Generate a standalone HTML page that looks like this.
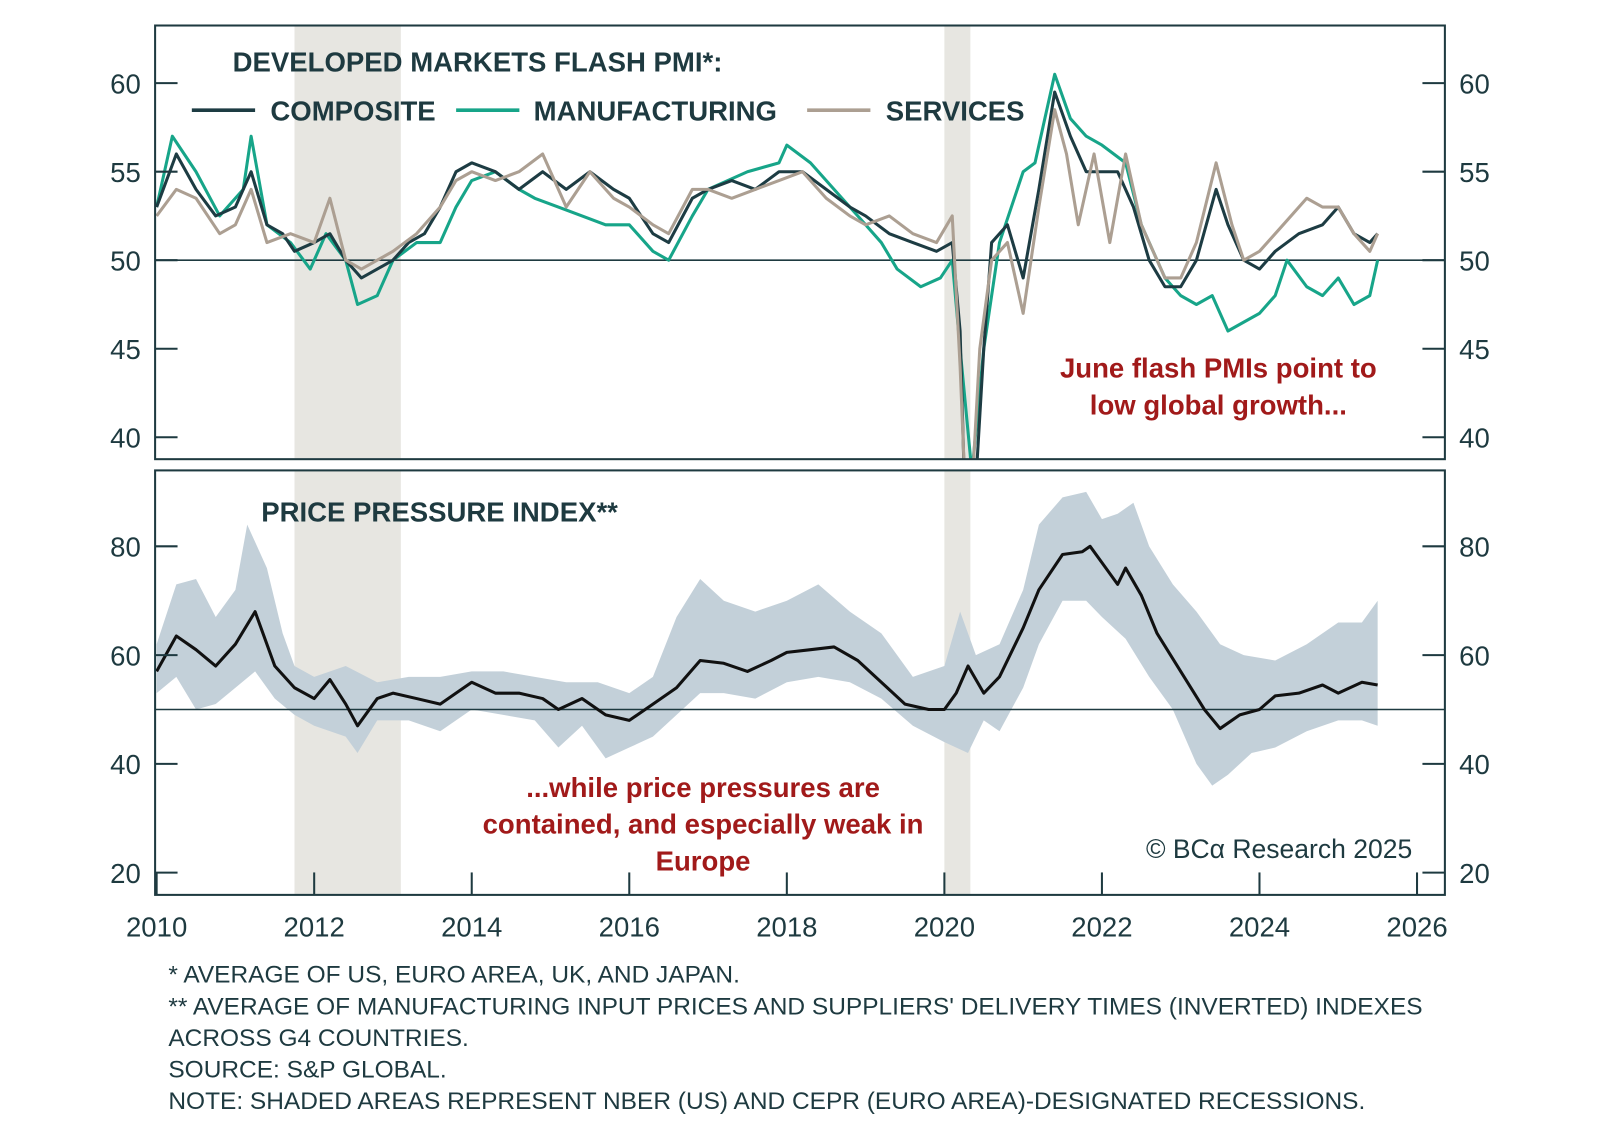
<!DOCTYPE html>
<html><head><meta charset="utf-8"><style>
body{margin:0;background:#fff;}
svg text{font-family:"Liberation Sans",sans-serif;}
</style></head><body>
<svg width="1600" height="1133" viewBox="0 0 1600 1133"><g id="c" transform="scale(1.0204)"></g></svg>
<script>
// ---- data ----
const compDates=[2010,2010.25,2010.5,2010.75,2011,2011.2,2011.4,2011.6,2011.75,2012,2012.2,2012.4,2012.6,2012.8,2013,2013.2,2013.4,2013.6,2013.8,2014,2014.3,2014.6,2014.9,2015.2,2015.5,2015.8,2016,2016.3,2016.5,2016.8,2017,2017.3,2017.6,2017.9,2018.2,2018.5,2018.8,2019,2019.3,2019.6,2019.9,2020.1,2020.2,2020.3,2020.5,2020.6,2020.8,2021,2021.2,2021.4,2021.6,2021.8,2022,2022.2,2022.4,2022.6,2022.8,2023,2023.2,2023.45,2023.6,2023.8,2024,2024.2,2024.5,2024.8,2025,2025.2,2025.4,2025.5];
const compVals=[53,56,54,52.5,53,55,52,51.5,50.5,51,51.5,50,49,49.5,50,51,51.5,53,55,55.5,55,54,55,54,55,54,53.5,51.5,51,53.5,54,54.5,54,55,55,54,53,52.5,51.5,51,50.5,51,46,30,45,51,52,49,54,59.5,57,55,55,55,53,50,48.5,48.5,50,54,52,50,49.5,50.5,51.5,52,53,51.5,51,51.5];
const mfgDates=[2010,2010.2,2010.5,2010.8,2011.1,2011.2,2011.4,2011.7,2011.95,2012.15,2012.4,2012.55,2012.8,2013,2013.3,2013.6,2013.8,2014,2014.3,2014.6,2014.8,2015.1,2015.4,2015.7,2016,2016.3,2016.5,2016.8,2017,2017.5,2017.9,2018,2018.3,2018.6,2018.9,2019.2,2019.4,2019.7,2019.95,2020.1,2020.2,2020.35,2020.5,2020.7,2021,2021.15,2021.4,2021.6,2021.8,2022,2022.3,2022.5,2022.8,2023,2023.2,2023.4,2023.6,2023.8,2024,2024.2,2024.35,2024.6,2024.8,2025,2025.2,2025.4,2025.5];
const mfgVals=[53,57,55,52.5,54,57,52,51,49.5,51.5,50,47.5,48,50,51,51,53,54.5,55,54,53.5,53,52.5,52,52,50.5,50,52.5,54,55,55.5,56.5,55.5,54,52.5,51,49.5,48.5,49,50,45,38,45,51,55,55.5,60.5,58,57,56.5,55.5,52,49,48,47.5,48,46,46.5,47,48,50,48.5,48,49,47.5,48,50];
const svcDates=[2010,2010.25,2010.5,2010.8,2011,2011.2,2011.4,2011.7,2012,2012.2,2012.4,2012.6,2012.8,2013,2013.3,2013.6,2013.8,2014,2014.3,2014.6,2014.9,2015.2,2015.5,2015.8,2016,2016.3,2016.5,2016.8,2017,2017.3,2017.6,2017.9,2018.2,2018.5,2018.8,2019,2019.3,2019.6,2019.9,2020.1,2020.2,2020.3,2020.45,2020.6,2020.8,2021,2021.2,2021.4,2021.55,2021.7,2021.9,2022.1,2022.3,2022.5,2022.8,2023,2023.2,2023.45,2023.65,2023.8,2024,2024.3,2024.6,2024.8,2025,2025.2,2025.4,2025.5];
const svcVals=[52.5,54,53.5,51.5,52,54,51,51.5,51,53.5,50,49.5,50,50.5,51.5,53,54.5,55,54.5,55,56,53,55,53.5,53,52,51.5,54,54,53.5,54,54.5,55,53.5,52.5,52,52.5,51.5,51,52.5,44,33,45,50,51,47,53,58.5,56,52,56,51,56,52,49,49,51,55.5,52,50,50.5,52,53.5,53,53,51.5,50.5,51.5];
const ppiDates=[2010,2010.25,2010.5,2010.75,2011,2011.25,2011.5,2011.75,2012,2012.2,2012.4,2012.55,2012.8,2013,2013.3,2013.6,2013.8,2014,2014.3,2014.6,2014.9,2015.1,2015.4,2015.7,2016,2016.3,2016.6,2016.9,2017.2,2017.5,2017.8,2018,2018.3,2018.6,2018.9,2019.2,2019.5,2019.8,2020,2020.15,2020.3,2020.5,2020.7,2021,2021.2,2021.5,2021.75,2021.85,2022,2022.2,2022.3,2022.5,2022.7,2023,2023.3,2023.5,2023.75,2024,2024.2,2024.5,2024.8,2025,2025.3,2025.5];
const ppiVals=[57,63.5,61,58,62,68,58,54,52,55.5,51,47,52,53,52,51,53,55,53,53,52,50,52,49,48,51,54,59,58.5,57,59,60.5,61,61.5,59,55,51,50,50,53,58,53,56,65,72,78.5,79,80,77,73,76,71,64,57,50,46.5,49,50,52.5,53,54.5,53,55,54.5];
const upDates=[2010,2010.25,2010.5,2010.75,2011,2011.15,2011.4,2011.6,2011.75,2012,2012.4,2012.8,2013.2,2013.6,2014,2014.4,2014.8,2015.2,2015.6,2016,2016.3,2016.6,2016.9,2017.2,2017.6,2018,2018.4,2018.8,2019.2,2019.6,2020,2020.2,2020.4,2020.7,2021,2021.2,2021.5,2021.8,2022,2022.2,2022.4,2022.6,2022.9,2023.2,2023.5,2023.8,2024.2,2024.6,2025,2025.3,2025.5];
const upVals=[62,73,74,67,72,84,76,64,58,56,58,55,56,56,57,57,56,55,55,53,56,67,74,70,68,70,73,68,64,56,58,68,60,62,72,84,89,90,85,86,88,80,73,68,62,60,59,62,66,66,70];
const loDates=[2010,2010.25,2010.5,2010.75,2011,2011.25,2011.5,2011.75,2012,2012.4,2012.55,2012.8,2013.2,2013.6,2014,2014.4,2014.8,2015.1,2015.4,2015.7,2016,2016.3,2016.6,2016.9,2017.2,2017.6,2018,2018.4,2018.8,2019.2,2019.6,2020,2020.3,2020.5,2020.7,2021,2021.2,2021.5,2021.8,2022,2022.3,2022.6,2022.9,2023.2,2023.4,2023.6,2023.9,2024.2,2024.6,2025,2025.3,2025.5];
const loVals=[53,56,50,51,54,57,52,49,47,45,42,48,48,46,50,49,48,43,47,41,43,45,49,53,53,52,55,56,55,52,47,44,42,48,46,54,62,70,70,67,63,56,50,40,36,38,42,43,46,48,48,47];
const recessions=[[2011.75,2013.1],[2020.0,2020.33]];
const topTicks=[40,45,50,55,60];
const botTicks=[20,40,60,80];
const xTicks=[2010,2012,2014,2016,2018,2020,2022,2024,2026];

// ---- scales ----
const X0=152,X1=1416;
const x=d=>153.5+(d-2010)*77.2;
const T0=25,T1=450,B0=461,B1=877;
const yT=v=>255-(v-50)*17.35;
const yB=v=>642-(v-60)*5.33;
const svg=document.getElementById('c');
const NS='http://www.w3.org/2000/svg';
function mk(tag,attrs,parent){const e=document.createElementNS(NS,tag);for(const k in attrs)e.setAttribute(k,attrs[k]);(parent||svg).appendChild(e);return e;}
function txt(s,attrs){const e=mk('text',attrs);e.textContent=s;return e;}

const defs=mk('defs',{});
const c1=mk('clipPath',{id:'ct'},defs);mk('rect',{x:X0,y:T0,width:X1-X0,height:T1-T0},c1);
const c2=mk('clipPath',{id:'cb'},defs);mk('rect',{x:X0,y:B0,width:X1-X0,height:B1-B0},c2);

recessions.forEach(r=>{
  [[T0,T1],[B0,B1]].forEach(p=>{
    const e=mk('rect',{x:x(r[0]),y:p[0],width:x(r[1])-x(r[0]),height:p[1]-p[0],fill:'#e7e6e1'});
    
    
  });
});

let bp='M'+upDates.map((d,i)=>x(d)+','+yB(upVals[i])).join(' L');
for(let i=loDates.length-1;i>=0;i--)bp+=' L'+x(loDates[i])+','+yB(loVals[i]);
const band=mk('path',{d:bp+'Z',fill:'#c3d0d9','clip-path':'url(#cb)'});



mk('line',{x1:X0,x2:X1,y1:yT(50),y2:yT(50),stroke:'#1e3a40','stroke-width':1.5});
mk('line',{x1:X0,x2:X1,y1:yB(50),y2:yB(50),stroke:'#1e3a40','stroke-width':1.5});

function line(dates,vals,y,color,w,clip,name){
  const e=mk('path',{d:'M'+dates.map((d,i)=>x(d).toFixed(1)+','+y(vals[i]).toFixed(1)).join(' L'),fill:'none',stroke:color,'stroke-width':w,'stroke-linejoin':'round','clip-path':clip});
  
  
}
line(mfgDates,mfgVals,yT,'#17a589',3,'url(#ct)','manufacturing-line');
line(compDates,compVals,yT,'#1d3c43',3,'url(#ct)','composite-line');
line(svcDates,svcVals,yT,'#ac9f92',3,'url(#ct)','services-line');
line(ppiDates,ppiVals,yB,'#111',3,'url(#cb)','price-pressure-line');

mk('rect',{x:X0,y:T0,width:X1-X0,height:T1-T0,fill:'none',stroke:'#1e3a40','stroke-width':2});
mk('rect',{x:X0,y:B0,width:X1-X0,height:B1-B0,fill:'none',stroke:'#1e3a40','stroke-width':2});

const tc='#1e3a40';
topTicks.forEach(v=>{
  mk('line',{x1:X0,x2:X0+22,y1:yT(v),y2:yT(v),stroke:tc,'stroke-width':2});
  mk('line',{x1:X1-22,x2:X1,y1:yT(v),y2:yT(v),stroke:tc,'stroke-width':2});
  txt(v,{x:138,y:yT(v)+10,'text-anchor':'end','font-size':27,fill:tc});
  txt(v,{x:1430,y:yT(v)+10,'font-size':27,fill:tc});
});
botTicks.forEach(v=>{
  mk('line',{x1:X0,x2:X0+22,y1:yB(v),y2:yB(v),stroke:tc,'stroke-width':2});
  mk('line',{x1:X1-22,x2:X1,y1:yB(v),y2:yB(v),stroke:tc,'stroke-width':2});
  txt(v,{x:138,y:yB(v)+10,'text-anchor':'end','font-size':27,fill:tc});
  txt(v,{x:1430,y:yB(v)+10,'font-size':27,fill:tc});
});
xTicks.forEach(d=>{
  mk('line',{x1:x(d),x2:x(d),y1:B1-22,y2:B1,stroke:tc,'stroke-width':2});
  txt(d,{x:x(d),y:918,'text-anchor':'middle','font-size':27,fill:tc});
});

txt('DEVELOPED MARKETS FLASH PMI*:',{x:228,y:70,'font-size':27,'font-weight':'bold',fill:tc});
const lg=[['COMPOSITE','#1d3c43',188,265],['MANUFACTURING','#17a589',447,523],['SERVICES','#ac9f92',791,868]];
lg.forEach(l=>{
  mk('line',{x1:l[2],x2:l[2]+62,y1:108,y2:108,stroke:l[1],'stroke-width':3.5});
  txt(l[0],{x:l[3],y:118,'font-size':27,'font-weight':'bold',fill:tc});
});
txt('PRICE PRESSURE INDEX**',{x:256,y:511,'font-size':27,'font-weight':'bold',fill:tc});
const red='#a11a1a';
txt('June flash PMIs point to',{x:1194,y:370,'text-anchor':'middle','font-size':27,'font-weight':'bold',fill:red});
txt('low global growth...',{x:1194,y:406,'text-anchor':'middle','font-size':27,'font-weight':'bold',fill:red});
txt('...while price pressures are',{x:689,y:781,'text-anchor':'middle','font-size':27,'font-weight':'bold',fill:red});
txt('contained, and especially weak in',{x:689,y:817,'text-anchor':'middle','font-size':27,'font-weight':'bold',fill:red});
txt('Europe',{x:689,y:853,'text-anchor':'middle','font-size':27,'font-weight':'bold',fill:red});
txt('© BCα Research 2025',{x:1384,y:841,'text-anchor':'end','font-size':26,fill:tc,'font-family':'Liberation Serif, serif'});
const notes=['* AVERAGE OF US, EURO AREA, UK, AND JAPAN.','** AVERAGE OF MANUFACTURING INPUT PRICES AND SUPPLIERS\' DELIVERY TIMES (INVERTED) INDEXES','ACROSS G4 COUNTRIES.','SOURCE: S&P GLOBAL.','NOTE: SHADED AREAS REPRESENT NBER (US) AND CEPR (EURO AREA)-DESIGNATED RECESSIONS.'];
notes.forEach((n,i)=>txt(n,{x:165,y:963+i*31,'font-size':24,fill:tc}));
</script>
</body></html>
